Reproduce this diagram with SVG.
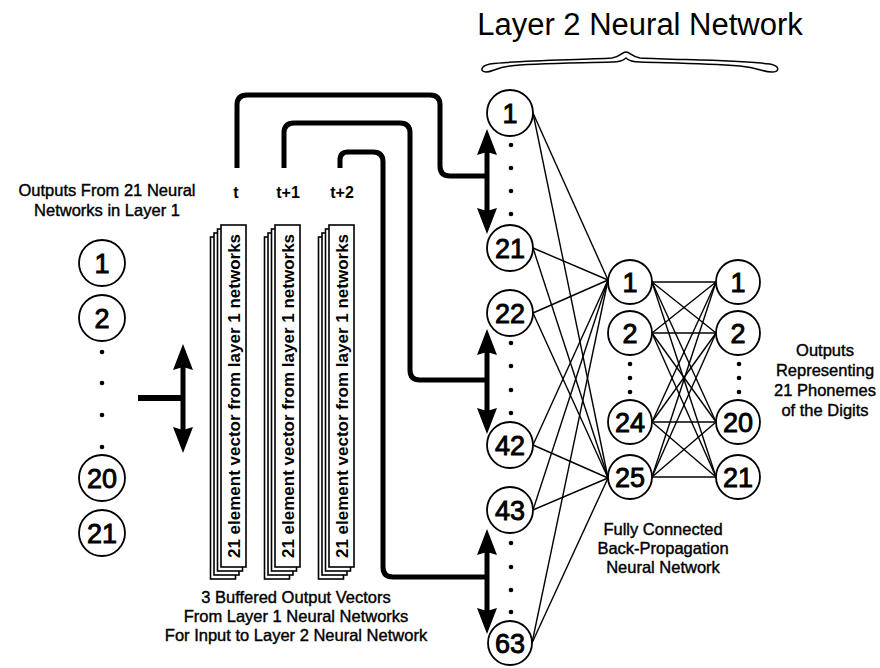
<svg xmlns="http://www.w3.org/2000/svg" width="880" height="668" viewBox="0 0 880 668">
<style>
text{font-family:"Liberation Sans",Arial,sans-serif;fill:#000}
.lbl{font-size:16.5px;text-anchor:middle;stroke:#000;stroke-width:0.4}
.title{font-size:31px;text-anchor:middle}
.num{font-size:27px;text-anchor:middle;stroke:#000;stroke-width:0.9}
.tl{font-size:16px;font-weight:bold;text-anchor:middle}
.card{fill:#fff;stroke:#000;stroke-width:1.6}
.ctext{font-size:17px;font-weight:bold;text-anchor:middle}
circle.n{fill:#fff;stroke:#000;stroke-width:1.8}
.dot{fill:#000}
.bus{fill:none;stroke:#000;stroke-width:5}
.arr{stroke:#000;stroke-width:5;marker-start:url(#ah);marker-end:url(#ah)}
.w{stroke:#000;stroke-width:1.4}
</style>
<defs>
<marker id="ah" viewBox="0 0 26 20" refX="3" refY="10" markerWidth="26" markerHeight="20" markerUnits="userSpaceOnUse" orient="auto-start-reverse">
<path d="M0,0 L26,10 L0,20 L3,10 Z" fill="#000"/>
</marker>
</defs>

<g id="title">
<text class="title" x="640" y="35">Layer 2 Neural Network</text>
<path d="M490,64 C520,60 580,60 612,58 C620,57 622,52 626,52 C630,52 632,57 640,58 C680,60 740,60 770,64 C780,66 780,72 772,72 C762,72 760,68 740,66 C700,63 660,63 640,62 C632,62 628,60 626,58 C624,60 620,62 612,62 C580,63 530,63 510,66 C495,68 492,72 486,72 C480,72 480,66 490,64 Z" fill="#fff" stroke="#000" stroke-width="1.5"/>
</g>

<g id="connectors">
<line class="w" x1="533" y1="113" x2="608" y2="280"/>
<line class="w" x1="533" y1="113" x2="608" y2="478"/>
<line class="w" x1="533" y1="248" x2="608" y2="280"/>
<line class="w" x1="533" y1="248" x2="608" y2="478"/>
<line class="w" x1="533" y1="313" x2="608" y2="280"/>
<line class="w" x1="533" y1="313" x2="608" y2="478"/>
<line class="w" x1="533" y1="445" x2="608" y2="280"/>
<line class="w" x1="533" y1="445" x2="608" y2="478"/>
<line class="w" x1="533" y1="510" x2="608" y2="280"/>
<line class="w" x1="533" y1="510" x2="608" y2="478"/>
<line class="w" x1="532" y1="643" x2="608" y2="280"/>
<line class="w" x1="532" y1="643" x2="608" y2="478"/>
<line class="w" x1="652" y1="282" x2="716" y2="282"/>
<line class="w" x1="652" y1="282" x2="716" y2="333"/>
<line class="w" x1="652" y1="282" x2="716" y2="422"/>
<line class="w" x1="652" y1="282" x2="716" y2="477"/>
<line class="w" x1="652" y1="333" x2="716" y2="282"/>
<line class="w" x1="652" y1="333" x2="716" y2="333"/>
<line class="w" x1="652" y1="333" x2="716" y2="422"/>
<line class="w" x1="652" y1="333" x2="716" y2="477"/>
<line class="w" x1="652" y1="422" x2="716" y2="282"/>
<line class="w" x1="652" y1="422" x2="716" y2="333"/>
<line class="w" x1="652" y1="422" x2="716" y2="422"/>
<line class="w" x1="652" y1="422" x2="716" y2="477"/>
<line class="w" x1="652" y1="477" x2="716" y2="282"/>
<line class="w" x1="652" y1="477" x2="716" y2="333"/>
<line class="w" x1="652" y1="477" x2="716" y2="422"/>
<line class="w" x1="652" y1="477" x2="716" y2="477"/>
<path class="bus" d="M237,168 V105 Q237,95 247,95 H430 Q440,95 440,105 V166 Q440,176 450,176 H487"/>
<path class="bus" d="M284,168 V133 Q284,123 294,123 H400 Q410,123 410,133 V370 Q410,380 420,380 H487"/>
<path class="bus" d="M340,168 V160 Q340,152 348,152 H373 Q383,152 383,162 V567 Q383,577 393,577 H487"/>
<line class="arr" x1="487" y1="152" x2="487" y2="211"/>
<line class="arr" x1="487" y1="352" x2="487" y2="411"/>
<line class="arr" x1="487" y1="552" x2="487" y2="611"/>
<line x1="138" y1="398" x2="183" y2="398" stroke="#000" stroke-width="6"/>
<line class="arr" x1="183" y1="367" x2="183" y2="430"/>
</g>

<g id="layer1-label">
<text class="lbl" x="107" y="196">Outputs From 21 Neural</text>
<text class="lbl" x="107" y="216">Networks in Layer 1</text>
</g>

<g id="layer1-outputs">
<circle class="n" cx="102" cy="263" r="23"/><text class="num" x="102" y="273">1</text>
<circle class="n" cx="102" cy="318" r="23"/><text class="num" x="102" y="328">2</text>
<circle class="dot" cx="102" cy="352" r="2.3"/>
<circle class="dot" cx="102" cy="383" r="2.3"/>
<circle class="dot" cx="102" cy="415" r="2.3"/>
<circle class="dot" cx="102" cy="447" r="2.3"/>
<circle class="n" cx="102" cy="478" r="23"/><text class="num" x="102" y="488">20</text>
<circle class="n" cx="102" cy="533" r="23"/><text class="num" x="102" y="543">21</text>
</g>

<g id="buffer-t">
<text class="tl" x="236" y="198">t</text>
<rect class="card" x="210.5" y="237" width="25" height="342"/>
<rect class="card" x="214" y="233" width="25" height="342"/>
<rect class="card" x="217.5" y="229" width="25" height="342"/>
<rect class="card" x="221" y="225" width="25" height="342"/>
<text class="ctext" transform="translate(233.5,396) rotate(-90)" y="6">21 element vector from layer 1 networks</text>
</g>

<g id="buffer-t1">
<text class="tl" x="288" y="198">t+1</text>
<rect class="card" x="264.5" y="237" width="25" height="342"/>
<rect class="card" x="268" y="233" width="25" height="342"/>
<rect class="card" x="271.5" y="229" width="25" height="342"/>
<rect class="card" x="275" y="225" width="25" height="342"/>
<text class="ctext" transform="translate(287.5,396) rotate(-90)" y="6">21 element vector from layer 1 networks</text>
</g>

<g id="buffer-t2">
<text class="tl" x="342" y="198">t+2</text>
<rect class="card" x="318.5" y="237" width="25" height="342"/>
<rect class="card" x="322" y="233" width="25" height="342"/>
<rect class="card" x="325.5" y="229" width="25" height="342"/>
<rect class="card" x="329" y="225" width="25" height="342"/>
<text class="ctext" transform="translate(341.5,396) rotate(-90)" y="6">21 element vector from layer 1 networks</text>
</g>

<g id="buffer-label">
<text class="lbl" x="296" y="603">3 Buffered Output Vectors</text>
<text class="lbl" x="296" y="622">From Layer 1 Neural Networks</text>
<text class="lbl" x="296" y="641">For Input to Layer 2 Neural Network</text>
</g>

<g id="input-layer">
<circle class="n" cx="510" cy="113" r="23"/><text class="num" x="510" y="123">1</text>
<circle class="dot" cx="511" cy="145" r="2.3"/>
<circle class="dot" cx="511" cy="168" r="2.3"/>
<circle class="dot" cx="511" cy="191" r="2.3"/>
<circle class="dot" cx="511" cy="214" r="2.3"/>
<circle class="n" cx="510" cy="248" r="23"/><text class="num" x="510" y="258">21</text>
<circle class="n" cx="510" cy="313" r="23"/><text class="num" x="510" y="323">22</text>
<circle class="dot" cx="511" cy="343" r="2.3"/>
<circle class="dot" cx="511" cy="366" r="2.3"/>
<circle class="dot" cx="511" cy="390" r="2.3"/>
<circle class="dot" cx="511" cy="413" r="2.3"/>
<circle class="n" cx="510" cy="445" r="23"/><text class="num" x="510" y="455">42</text>
<circle class="n" cx="510" cy="510" r="23"/><text class="num" x="510" y="520">43</text>
<circle class="dot" cx="511" cy="543" r="2.3"/>
<circle class="dot" cx="511" cy="567" r="2.3"/>
<circle class="dot" cx="511" cy="590" r="2.3"/>
<circle class="dot" cx="511" cy="612" r="2.3"/>
<circle class="n" cx="510" cy="643" r="22"/><text class="num" x="510" y="653">63</text>
</g>

<g id="hidden-layer">
<circle class="n" cx="630" cy="282" r="22"/><text class="num" x="630" y="292">1</text>
<circle class="n" cx="630" cy="333" r="22"/><text class="num" x="630" y="343">2</text>
<circle class="dot" cx="630" cy="364" r="2.3"/>
<circle class="dot" cx="630" cy="378" r="2.3"/>
<circle class="dot" cx="630" cy="392" r="2.3"/>
<circle class="n" cx="630" cy="422" r="22"/><text class="num" x="630" y="432">24</text>
<circle class="n" cx="630" cy="477" r="22"/><text class="num" x="630" y="487">25</text>
</g>

<g id="hidden-label">
<text class="lbl" x="663" y="535">Fully Connected</text>
<text class="lbl" x="663" y="554">Back-Propagation</text>
<text class="lbl" x="663" y="573">Neural Network</text>
</g>

<g id="output-layer">
<circle class="n" cx="738" cy="282" r="22"/><text class="num" x="738" y="292">1</text>
<circle class="n" cx="738" cy="333" r="22"/><text class="num" x="738" y="343">2</text>
<circle class="dot" cx="739" cy="364" r="2.3"/>
<circle class="dot" cx="739" cy="378" r="2.3"/>
<circle class="dot" cx="739" cy="392" r="2.3"/>
<circle class="n" cx="738" cy="422" r="22"/><text class="num" x="738" y="432">20</text>
<circle class="n" cx="738" cy="477" r="22"/><text class="num" x="738" y="487">21</text>
</g>

<g id="output-label">
<text class="lbl" x="825" y="356">Outputs</text>
<text class="lbl" x="825" y="376">Representing</text>
<text class="lbl" x="825" y="396">21 Phonemes</text>
<text class="lbl" x="825" y="416">of the Digits</text>
</g>
</svg>
